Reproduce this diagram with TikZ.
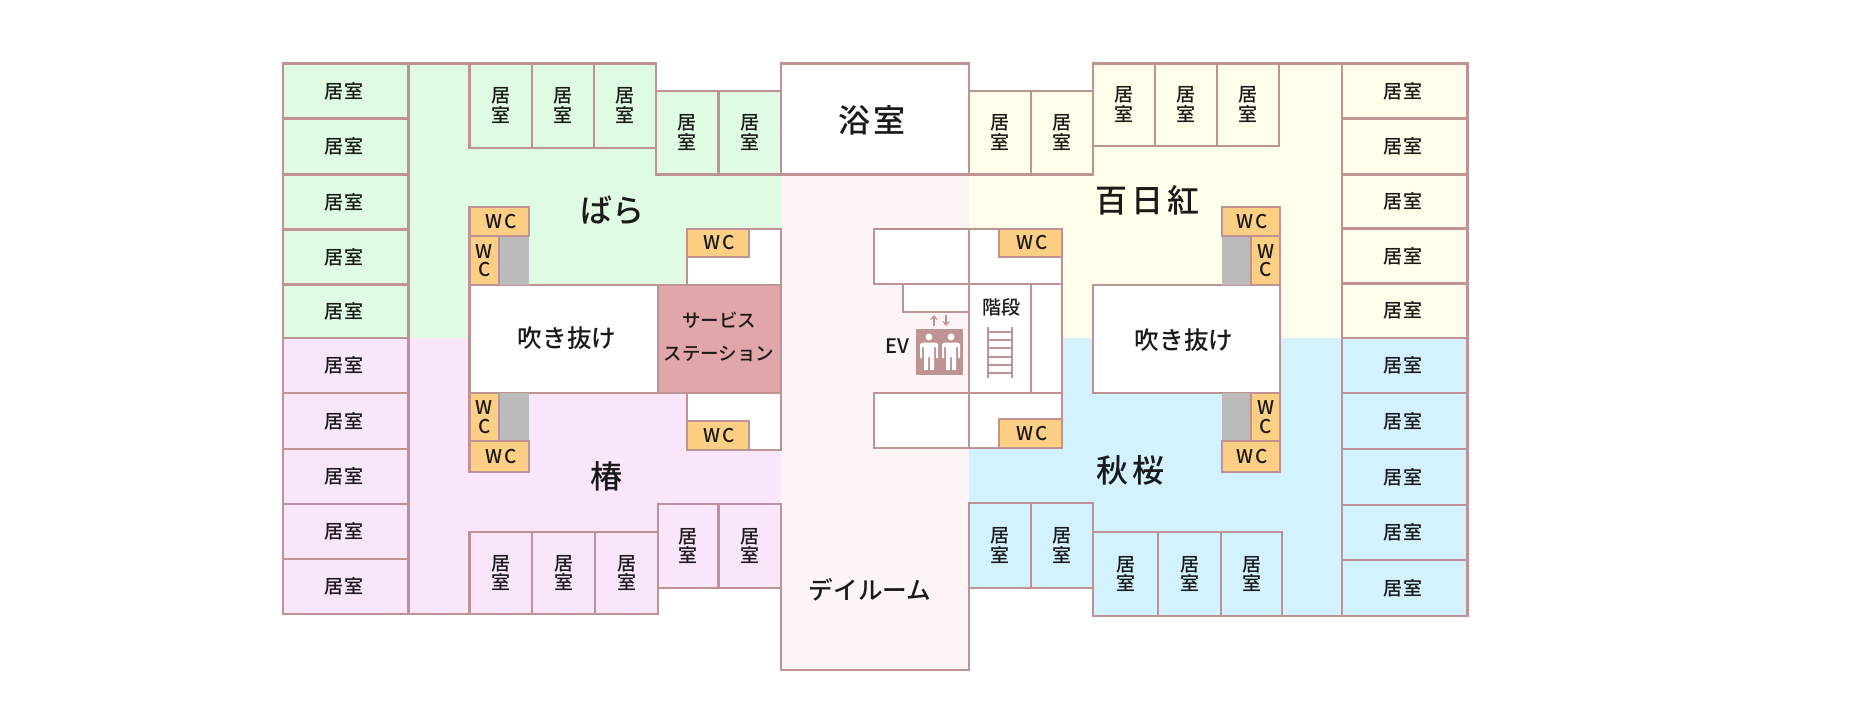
\documentclass[tikz,border=0pt]{standalone}
\usepackage{fontspec}
\setmainfont{Noto Sans CJK JP Medium}
\usetikzlibrary{arrows.meta}
\definecolor{wallc}{HTML}{BF9294}
\definecolor{greenc}{HTML}{DFFBE3}
\definecolor{pinkc}{HTML}{F9E6FB}
\definecolor{yellowc}{HTML}{FFFEEA}
\definecolor{bluec}{HTML}{D2F2FF}
\definecolor{hallc}{HTML}{FDF5F5}
\definecolor{orangec}{HTML}{FDCF85}
\definecolor{grayc}{HTML}{BBBBBB}
\definecolor{servc}{HTML}{E0A6AA}
\definecolor{inkc}{HTML}{1A1A1A}
\tikzset{
  wall/.style={draw=wallc,line width=2.8pt,line join=miter},
  lab/.style={inner sep=0pt,text=inkc,align=center,font=\fontsize{19}{19.5}\selectfont},
  biglab/.style={lab,font=\fontsize{32}{34}\selectfont},
  midlab/.style={lab,font=\fontsize{24.6}{27}\selectfont},
  servlab/.style={lab,font=\fontsize{18.5}{33}\selectfont},
}
% \roombox[fill]{name}{x1}{y1}{x2}{y2}{text}
\newcommand{\roombox}[7][white]{%
  \draw[wall,fill=#1] (#3,#4) rectangle (#5,#6);
  \node[lab] (#2) at ({(#3+#5)/2},{(#4+#6)/2}) {#7};}
\newcommand{\ho}{\lower1.5pt\hbox{居\kern1pt 室\kern4pt}}
\newcommand{\ve}{居\\室}
\newcommand{\wch}{\fontsize{19}{20}\selectfont\kern3pt W\kern2pt C}
\newcommand{\wcv}{\fontsize{19}{19}\selectfont W\\[-1pt]C}
\newcommand{\personicon}[1]{%
  \fill[white] (#1,337) circle (3.4);
  \fill[white] (#1-9,344) -- (#1-6,342.5) -- (#1+6,342.5) -- (#1+9,344) -- (#1+9,358) -- (#1+7,358) -- (#1+7,347) -- (#1+5,347)
    -- (#1+5,370) -- (#1+1,370) -- (#1+1,357) -- (#1-1,357) -- (#1-1,370) -- (#1-5,370) -- (#1-5,347) -- (#1-7,347) -- (#1-7,358) -- (#1-9,358) -- cycle;}
\begin{document}
\begin{tikzpicture}[x=1pt,y=-1pt]
\useasboundingbox (0,0) rectangle (1874,706);
\fill[white] (0,0) rectangle (1874,706);
% wing floors
\fill[greenc] (408,63.5) rectangle (783,338);
\fill[pinkc] (408,338) rectangle (783,614);
\fill[yellowc] (969,63.5) rectangle (1342,338);
\fill[bluec] (969,338) rectangle (1342,616);
\fill[white] (656,63.5) rectangle (781,91);
\fill[white] (656,588) rectangle (781,620);
\fill[white] (969,63.5) rectangle (1093,91);
\fill[white] (969,588) rectangle (1093,620);
\fill[hallc] (781,174) rectangle (969,670);
% outer walls
\draw[wall] (408,63.5) -- (469,63.5);
\draw[wall] (408,614) -- (469,614);
\draw[wall] (1279,63.5) -- (1342,63.5);
\draw[wall] (1282,616) -- (1342,616);
\draw[wall] (781,504) -- (781,670) -- (969,670) -- (969,503);
% left column
\roombox[greenc]{la}{283}{63.5}{408.5}{118.5}{\ho}
\roombox[greenc]{lb}{283}{118.5}{408.5}{174.5}{\ho}
\roombox[greenc]{lc}{283}{174.5}{408.5}{229.5}{\ho}
\roombox[greenc]{ld}{283}{229.5}{408.5}{284.5}{\ho}
\roombox[greenc]{le}{283}{284.5}{408.5}{338}{\ho}
\roombox[pinkc]{lf}{283}{338}{408.5}{393}{\ho}
\roombox[pinkc]{lg}{283}{393}{408.5}{449}{\ho}
\roombox[pinkc]{lh}{283}{449}{408.5}{504}{\ho}
\roombox[pinkc]{li}{283}{504}{408.5}{559}{\ho}
\roombox[pinkc]{lj}{283}{559}{408.5}{614}{\ho}
% right column
\roombox[yellowc]{ra}{1342}{63.5}{1467.5}{118.5}{\ho}
\roombox[yellowc]{rb}{1342}{118.5}{1467.5}{174.5}{\ho}
\roombox[yellowc]{rc}{1342}{174.5}{1467.5}{228.5}{\ho}
\roombox[yellowc]{rd}{1342}{228.5}{1467.5}{283.5}{\ho}
\roombox[yellowc]{re}{1342}{283.5}{1467.5}{338}{\ho}
\roombox[bluec]{rf}{1342}{338}{1467.5}{393}{\ho}
\roombox[bluec]{rg}{1342}{393}{1467.5}{449}{\ho}
\roombox[bluec]{rh}{1342}{449}{1467.5}{505}{\ho}
\roombox[bluec]{ri}{1342}{505}{1467.5}{560}{\ho}
\roombox[bluec]{rj}{1342}{560}{1467.5}{616}{\ho}
% upper left rooms
\roombox[greenc]{ta}{469.5}{63.5}{532}{148}{\ve}
\roombox[greenc]{tb}{532}{63.5}{594}{148}{\ve}
\roombox[greenc]{tc}{594}{63.5}{656}{148}{\ve}
\roombox[greenc]{td}{656}{91}{718.5}{174.5}{\ve}
\roombox[greenc]{te}{718.5}{91}{781}{174.5}{\ve}
% lower left rooms
\roombox[pinkc]{ba}{469.5}{532}{532}{614}{\ve}
\roombox[pinkc]{bb}{532}{532}{595}{614}{\ve}
\roombox[pinkc]{bc}{595}{532}{658}{614}{\ve}
\roombox[pinkc]{bd}{658}{504}{718.5}{588}{\ve}
\roombox[pinkc]{be}{718.5}{504}{781}{588}{\ve}
% upper right rooms
\roombox[yellowc]{tf}{969}{91}{1031}{174.5}{\ve}
\roombox[yellowc]{tg}{1031}{91}{1093}{174.5}{\ve}
\roombox[yellowc]{th}{1093}{63.5}{1155}{146}{\ve}
\roombox[yellowc]{ti}{1155}{63.5}{1217}{146}{\ve}
\roombox[yellowc]{tj}{1217}{63.5}{1279}{146}{\ve}
% lower right rooms
\roombox[bluec]{bf}{969}{503}{1031}{588}{\ve}
\roombox[bluec]{bg}{1031}{503}{1093}{588}{\ve}
\roombox[bluec]{bh}{1093}{532}{1158}{616}{\ve}
\roombox[bluec]{bi}{1158}{532}{1221}{616}{\ve}
\roombox[bluec]{bj}{1221}{532}{1282}{616}{\ve}
% bath
\draw[wall,fill=white] (781,63.5) rectangle (969,174.5);
\node[biglab] (bath) at (872,120) {浴\kern3pt 室};
% voids and station
\draw[wall,fill=white] (469.5,285) rectangle (658,393);
\node[midlab] (voidl) at (567,338) {吹き抜け};
\draw[wall,fill=white] (1093,285) rectangle (1280,393);
\node[midlab] (voidr) at (1184,340) {吹き抜け};
\draw[wall,fill=servc] (658,285) rectangle (781,393);
\node[servlab] (serv) at (719,337) {サービス\\ステーション};
% left WC rooms
\draw[wall,fill=white] (687,229) rectangle (781,285);
\roombox[orangec]{wa}{687}{229}{749}{257}{\wch}
\draw[wall,fill=white] (687,393) rectangle (781,450);
\roombox[orangec]{wb}{687}{421}{749}{450}{\wch}
\fill[grayc] (499,236) rectangle (529,285);
\fill[grayc] (499,393) rectangle (529,441);
\roombox[orangec]{wc}{469.5}{207}{529}{236}{\wch}
\roombox[orangec]{wd}{469.5}{236}{499}{285}{\wcv}
\roombox[orangec]{we}{469.5}{393}{499}{441}{\wcv}
\roombox[orangec]{wf}{469.5}{441}{529}{472}{\wch}
% right WC rooms
\fill[grayc] (1222,236) rectangle (1251,285);
\fill[grayc] (1222,393) rectangle (1251,441);
\roombox[orangec]{wg}{1222}{207}{1280}{236}{\wch}
\roombox[orangec]{wh}{1251}{236}{1280}{285}{\wcv}
\roombox[orangec]{wi}{1251}{393}{1280}{441}{\wcv}
\roombox[orangec]{wj}{1222}{441}{1280}{472}{\wch}
% core
\draw[wall,fill=white] (874,229) rectangle (969,284);
\draw[wall,fill=white] (969,229) rectangle (1062,284);
\roombox[orangec]{wk}{999}{229}{1062}{257}{\wch}
\draw[wall,fill=white] (903,284) rectangle (969,312);
\draw[wall,fill=white] (969,284) rectangle (1062,393);
\draw[wall] (1031,284) -- (1031,393);
\draw[wall,fill=white] (874,393) rectangle (969,448);
\draw[wall,fill=white] (969,393) rectangle (1062,448);
\roombox[orangec]{wl}{999}{419}{1062}{448}{\wch}
% stair
\node[lab] (stair) at (1001,307) {階段};
\foreach \yy in {332,340,348,357,365,373} \draw[wallc,line width=1.2pt] (988,\yy) -- (1012,\yy);
\draw[wallc,line width=1.6pt] (988,327) -- (988,378);
\draw[wallc,line width=1.6pt] (1012,327) -- (1012,378);
% elevator
\fill[wallc] (916,329) rectangle (963,375);
\personicon{929}
\personicon{951}
\draw[wallc,line width=1.6pt,-{Stealth[length=5pt,width=8pt]}] (934,326) -- (934,315);
\draw[wallc,line width=1.6pt,-{Stealth[length=5pt,width=8pt]}] (946,315) -- (946,326);
\node[lab,font=\fontsize{20}{22}\selectfont] (ev) at (897,346) {EV};
% area names
\node[biglab] (bara) at (612,210) {ばら};
\node[biglab] (tsubaki) at (606,476) {椿};
\node[biglab] (hyaku) at (1147,200) {百\kern4pt 日\kern4pt 紅};
\node[biglab] (shuo) at (1130,470) {秋\kern4pt 桜};
\node[midlab] (day) at (870,590) {デイルーム};
\end{tikzpicture}
\end{document}
